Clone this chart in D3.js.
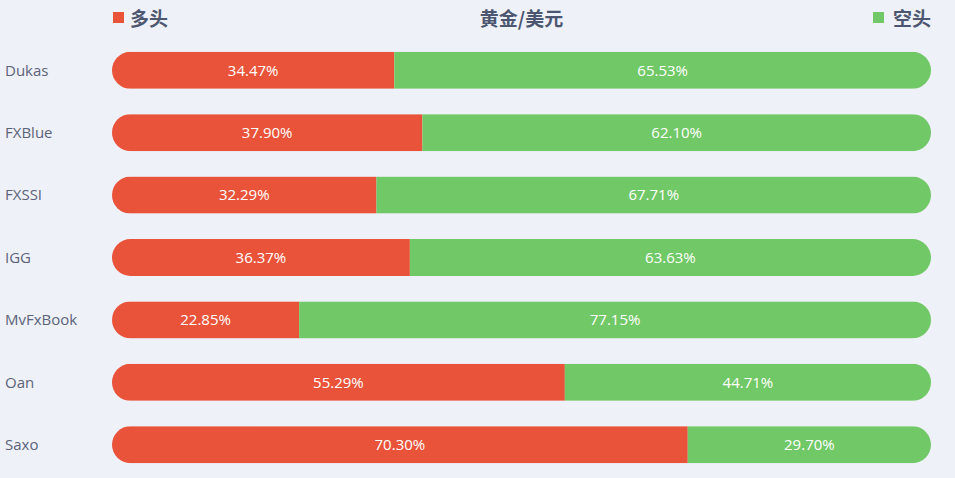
<!DOCTYPE html>
<html>
<head>
<meta charset="utf-8">
<script src="https://cdn.jsdelivr.net/npm/d3@7"></script>
<style>
  body { margin: 0; background: #eff1f8; font-family: "Open Sans", "Noto Sans CJK SC", sans-serif; }
  .cjk { font-family: "Noto Sans CJK SC", sans-serif; }
</style>
</head>
<body>
<svg id="chart"></svg>
<script>
const w = 955;
const h = 478;

// data
const brokers = ["Dukas", "FXBlue", "FXSSI", "IGG", "MvFxBook", "Oan", "Saxo"];
const longPct = [34.47, 37.90, 32.29, 36.37, 22.85, 55.29, 70.30];
const shortPct = [65.53, 62.10, 67.71, 63.63, 77.15, 44.71, 29.70];
const title = "黄金/美元";
const longName = "多头";
const shortName = "空头";

const red = "#e8533a";
const green = "#71c866";
const textColor = "#5b6378";
const headColor = "#4d5670";

const rows = brokers.map((b, i) => ({ name: b, long: longPct[i], short: shortPct[i] }));

const x = d3.scaleLinear().domain([0, 100]).range([112, 931]);
const y = d3.scaleBand()
  .domain(brokers)
  .range([39.3, 475.7])
  .paddingInner(0.407)
  .paddingOuter(0.2);

const svg = d3.select("#chart")
  .attr("width", w)
  .attr("height", h)
  .style("display", "block");

svg.append("rect").attr("width", w).attr("height", h).attr("fill", "#eff1f8");

// clip each row to a pill shape
const defs = svg.append("defs");
rows.forEach((d, i) => {
  defs.append("clipPath")
    .attr("id", "pill" + i)
    .append("rect")
    .attr("x", x(0))
    .attr("y", y(d.name))
    .attr("width", x(100) - x(0))
    .attr("height", y.bandwidth())
    .attr("rx", y.bandwidth() / 2);
});

const row = svg.selectAll("g.row")
  .data(rows)
  .enter()
  .append("g")
  .attr("class", "row");

const bars = row.append("g").attr("clip-path", (d, i) => `url(#pill${i})`);

bars.append("rect")
  .attr("x", x(0))
  .attr("y", d => y(d.name))
  .attr("width", d => x(d.long) - x(0))
  .attr("height", y.bandwidth())
  .attr("fill", red);

bars.append("rect")
  .attr("x", d => x(d.long))
  .attr("y", d => y(d.name))
  .attr("width", d => x(d.long + d.short) - x(d.long))
  .attr("height", y.bandwidth())
  .attr("fill", green);

// value labels
row.append("text")
  .attr("x", d => (x(0) + x(d.long)) / 2)
  .attr("y", d => y(d.name) + y.bandwidth() / 2)
  .attr("dy", "0.35em")
  .attr("text-anchor", "middle")
  .attr("fill", "#fff")
  .style("font-size", "15px")
  .text(d => d.long.toFixed(2) + "%");

row.append("text")
  .attr("x", d => (x(d.long) + x(d.long + d.short)) / 2)
  .attr("y", d => y(d.name) + y.bandwidth() / 2)
  .attr("dy", "0.35em")
  .attr("text-anchor", "middle")
  .attr("fill", "#fff")
  .style("font-size", "15px")
  .text(d => d.short.toFixed(2) + "%");

// category labels
row.append("text")
  .attr("x", 5)
  .attr("y", d => y(d.name) + y.bandwidth() / 2)
  .attr("dy", "0.35em")
  .attr("fill", textColor)
  .style("font-size", "15px")
  .text(d => d.name);

// header
svg.append("rect")
  .attr("x", 113).attr("y", 12)
  .attr("width", 11).attr("height", 11)
  .attr("fill", red);

svg.append("text")
  .attr("class", "cjk")
  .attr("x", 130).attr("y", 19)
  .attr("dy", "0.35em")
  .attr("fill", headColor)
  .style("font-size", "19px")
  .style("font-weight", "bold")
  .text(longName);

svg.append("text")
  .attr("class", "cjk")
  .attr("x", (x(0) + x(100)) / 2).attr("y", 19)
  .attr("dy", "0.35em")
  .attr("text-anchor", "middle")
  .attr("fill", headColor)
  .style("font-size", "19px")
  .style("font-weight", "bold")
  .text(title);

svg.append("rect")
  .attr("x", 873).attr("y", 12)
  .attr("width", 11).attr("height", 11)
  .attr("fill", green);

svg.append("text")
  .attr("class", "cjk")
  .attr("x", 931).attr("y", 19)
  .attr("dy", "0.35em")
  .attr("text-anchor", "end")
  .attr("fill", headColor)
  .style("font-size", "19px")
  .style("font-weight", "bold")
  .text(shortName);
</script>
</body>
</html>
